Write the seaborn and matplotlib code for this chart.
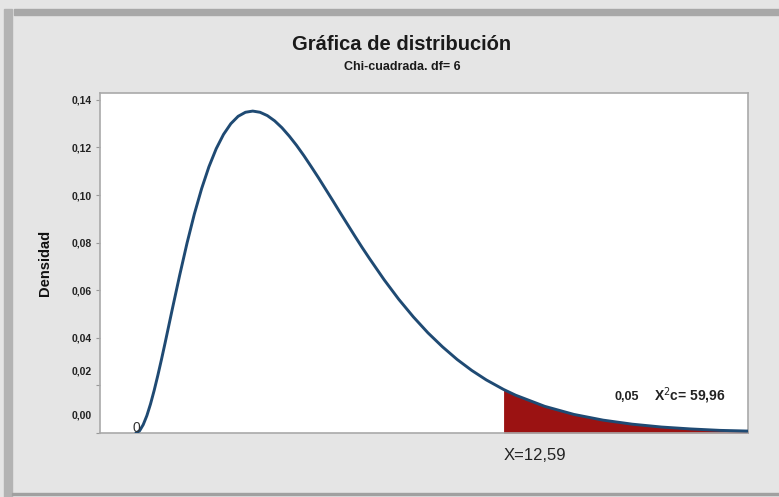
import matplotlib
matplotlib.use("Agg")
import matplotlib.pyplot as plt
import matplotlib.transforms as mtransforms
from matplotlib.patches import Rectangle
import seaborn as sns
import pandas as pd

# ---- data (chi-square density, df = 6) ----
x_vals = [0, 0.125, 0.25, 0.375, 0.5, 0.625, 0.75, 0.875, 1, 1.25, 1.5, 1.75,
          2, 2.25, 2.5, 2.75, 3, 3.25, 3.5, 3.75, 4, 4.25, 4.5, 4.75, 5, 5.25,
          5.5, 5.75, 6, 6.25, 6.5, 6.75, 7, 7.25, 7.5, 7.75, 8, 8.5, 9, 9.5,
          10, 10.5, 11, 11.5, 12, 12.59, 13, 14, 15, 16, 17, 18, 19, 20, 21]
densidad = [0.0, 0.0009, 0.0035, 0.0073, 0.0122, 0.0179, 0.0242, 0.0309,
            0.0379, 0.0523, 0.0664, 0.0798, 0.0920, 0.1027, 0.1119, 0.1195,
            0.1255, 0.1300, 0.1331, 0.1348, 0.1353, 0.1348, 0.1334, 0.1312,
            0.1283, 0.1248, 0.1209, 0.1166, 0.1120, 0.1073, 0.1024, 0.0975,
            0.0925, 0.0876, 0.0827, 0.0779, 0.0733, 0.0644, 0.0562, 0.0488,
            0.0421, 0.0362, 0.0309, 0.0263, 0.0223, 0.0183, 0.0159, 0.0112,
            0.0078, 0.0054, 0.0037, 0.0025, 0.0017, 0.0011, 0.0008]
x_critico = 12.59
ytick_vals = [0.00, 0.02, 0.04, 0.06, 0.08, 0.10, 0.12, 0.14]
ytick_labels = ["0,00", "0,02", "0,04", "0,06", "0,08", "0,10", "0,12", "0,14"]

titulo = "Gráfica de distribución"
subtitulo = "Chi-cuadrada. df= 6"

df = pd.DataFrame({"x": x_vals, "Densidad": densidad})
cola = df[df["x"] >= x_critico]

sns.set_style("white")
plt.rcParams["font.family"] = ["Liberation Sans", "DejaVu Sans"]

fig = plt.figure(figsize=(7.79, 4.97), dpi=100, facecolor="#e5e5e5")
ax = fig.add_axes([100 / 779, 64 / 497, 648 / 779, 340 / 497])
ax.set_facecolor("white")

# outer frame shading (screenshot border)
fig.patches.append(Rectangle((14 / 779, 482 / 497), 765 / 779, 6 / 497,
                             transform=fig.transFigure, color="#a8a8a8", zorder=0))
fig.patches.append(Rectangle((4 / 779, 0), 8 / 779, 488 / 497,
                             transform=fig.transFigure, color="#b3b3b3", zorder=0))
fig.patches.append(Rectangle((12 / 779, 2 / 497), 767 / 779, 2 / 497,
                             transform=fig.transFigure, color="#a0a0a0", zorder=0))

ax.fill_between(cola["x"], cola["Densidad"], 0, color="#9b1212", lw=0, zorder=2)
sns.lineplot(data=df, x="x", y="Densidad", ax=ax, color="#1f4a73",
             linewidth=2.1, zorder=3)

ax.set_xlim(-1.23, 20.96)
ax.set_ylim(0, 0.1429)
ax.set_xticks([])
ax.set_yticks(ytick_vals)
ax.set_yticklabels(ytick_labels, fontsize=7.5, fontweight="bold", color="#222222")
ax.tick_params(axis="y", length=3, width=0.8, color="#999999", pad=3, left=True)
ax.set_xlabel("")
ax.set_ylabel("Densidad", fontsize=10.5, fontweight="bold", color="#111111",
              labelpad=14)

# lower labels appear shifted upward in the reference
for lab, dy in zip(ax.get_yticklabels()[:2], [0.18, 0.15]):
    lab.set_transform(lab.get_transform() +
                      mtransforms.ScaledTranslation(0, dy, fig.dpi_scale_trans))

for s in ax.spines.values():
    s.set_color("#a9a9a9")
    s.set_linewidth(1.2)

fig.text(402 / 779, 1 - 45 / 497, titulo, ha="center", va="center",
         fontsize=14.5, fontweight="bold", color="#1a1a1a")
fig.text(402 / 779, 1 - 67 / 497, subtitulo, ha="center", va="center",
         fontsize=9, fontweight="bold", color="#1a1a1a")

ax.text(0, 0.0022, "0", ha="center", va="center", fontsize=10,
        color="#333333")
ax.text(x_critico, -0.0065, "X=12,59", ha="left", va="top", fontsize=12,
        color="#222222", clip_on=False)
ax.text(16.8, 0.0152, "0,05", ha="center", va="center", fontsize=9,
        fontweight="bold", color="#222222")
ax.text(17.75, 0.0155, r"X$^2$c= 59,96", ha="left", va="center", fontsize=10,
        fontweight="bold", color="#222222")

fig.savefig("out.png", dpi=100, facecolor=fig.get_facecolor())
